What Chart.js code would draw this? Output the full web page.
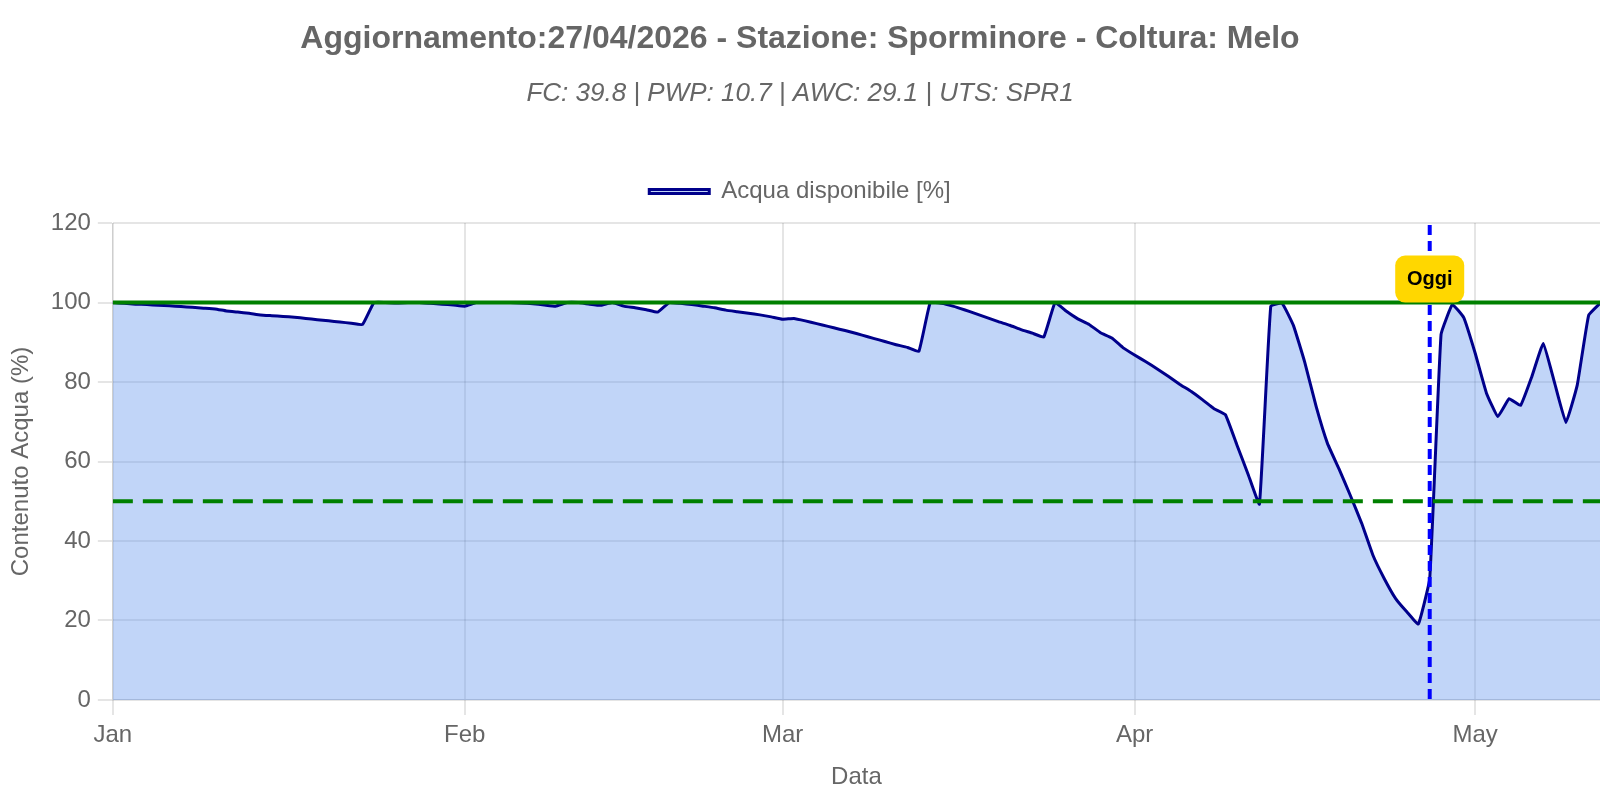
<!DOCTYPE html>
<html>
<head>
<meta charset="utf-8">
<script src="https://cdn.jsdelivr.net/npm/chart.js@4.4.1/dist/chart.umd.min.js"></script>
<style>
  body { margin: 0; background: #fff; }
  #box { width: 1600px; height: 800px; }
</style>
</head>
<body>
<div id="box"><canvas id="chart_acqua"></canvas></div>
<script>
var startDate = '2026-01-01';
var oggi = '2026-04-27';
var monthTicks = ['Jan', 'Feb', 'Mar', 'Apr', 'May'];
var fcLevel = 100;
var soglia = 50;

// acqua disponibile giornaliera [%], dal 1 gennaio
var acqua = [
  100, 99.8, 99.6, 99.5, 99.3, 99.2, 99.0, 98.8, 98.6, 98.4,
  97.9, 97.6, 97.3, 96.9, 96.7, 96.5, 96.3, 96.0, 95.7, 95.4,
  95.1, 94.8, 94.5, 100, 100, 99.9, 100, 100, 99.8, 99.6,
  99.4, 99.1, 100, 100, 100, 100, 99.9, 99.7, 99.4, 99.1,
  100, 100, 99.6, 99.3, 100, 99.1, 98.7, 98.2, 97.6, 100,
  99.8, 99.5, 99.1, 98.7, 98.1, 97.7, 97.3, 96.9, 96.4, 95.8,
  96.0, 95.4, 94.7, 94.0, 93.3, 92.6, 91.8, 91.0, 90.2, 89.4,
  88.7, 87.7, 100, 99.8, 99.1, 98.2, 97.2, 96.2, 95.2, 94.3,
  93.2, 92.3, 91.3, 100, 97.8, 95.9, 94.5, 92.4, 91.1, 88.6,
  86.8, 85.1, 83.3, 81.4, 79.4, 77.6, 75.5, 73.3, 71.8, 64.3,
  56.8, 49.3, 99.1, 99.8, 94.2, 84.9, 73.8, 64.5, 58.2, 51.5,
  44.5, 36.4, 30.5, 25.5, 22.1, 19.1, 30.5, 92.0, 99.5, 96.2,
  87.3, 77.2, 71.3, 75.8, 74.1, 81.4, 89.7, 79.8, 69.8, 79.3,
  96.8, 99.8
];

var fill_color = 'rgba(100, 149, 237, 0.4)';
var line_color = 'darkblue';
var grid_color = 'rgba(0, 0, 0, 0.1)';

// etichette giornaliere (una per valore)
var giorni = [];
var d0 = new Date(startDate + 'T00:00:00Z');
for (var i = 0; i < acqua.length; i++) {
  var d = new Date(d0.getTime() + i * 86400000);
  giorni.push(d.toISOString().slice(0, 10));
}

function roundRect(ctx, x, y, w, h, r) {
  ctx.beginPath();
  ctx.moveTo(x + r, y);
  ctx.lineTo(x + w - r, y);
  ctx.arcTo(x + w, y, x + w, y + r, r);
  ctx.lineTo(x + w, y + h - r);
  ctx.arcTo(x + w, y + h, x + w - r, y + h, r);
  ctx.lineTo(x + r, y + h);
  ctx.arcTo(x, y + h, x, y + h - r, r);
  ctx.lineTo(x, y + r);
  ctx.arcTo(x, y, x + r, y, r);
  ctx.closePath();
}

// un po' di spazio sotto la legenda
var spazioLegenda = {
  id: 'spazioLegenda',
  beforeInit: function (chart) {
    var fitOrig = chart.legend.fit;
    chart.legend.fit = function () {
      fitOrig.call(this);
      this.height += 9.5;
    };
  }
};

var linee = {
  id: 'linee',
  afterDatasetsDraw: function (chart) {
    var ctx = chart.ctx;
    var a = chart.chartArea;
    var x = chart.scales.x;
    var y = chart.scales.y;
    ctx.save();
    ctx.beginPath();
    ctx.rect(a.left, a.top, a.right - a.left, a.bottom - a.top);
    ctx.clip();

    // capacita' di campo
    var py = y.getPixelForValue(fcLevel);
    ctx.lineWidth = 4;
    ctx.strokeStyle = 'green';
    ctx.beginPath();
    ctx.moveTo(a.left, py);
    ctx.lineTo(a.right, py);
    ctx.stroke();

    // soglia 50%
    py = y.getPixelForValue(soglia);
    ctx.setLineDash([20, 10]);
    ctx.beginPath();
    ctx.moveTo(a.left, py);
    ctx.lineTo(a.right, py);
    ctx.stroke();

    // oggi
    var px = x.getPixelForValue(giorni.indexOf(oggi));
    ctx.strokeStyle = 'blue';
    ctx.setLineDash([10, 6]);
    ctx.beginPath();
    ctx.moveTo(px, a.top + 2);
    ctx.lineTo(px, a.bottom);
    ctx.stroke();
    ctx.restore();

    // etichetta
    ctx.save();
    var cy = a.top + 56;
    ctx.fillStyle = 'gold';
    roundRect(ctx, px - 34.5, cy - 23.5, 69, 47, 10);
    ctx.fill();
    ctx.fillStyle = '#000';
    ctx.font = 'bold 20px "Liberation Sans", Arial, sans-serif';
    ctx.textAlign = 'center';
    ctx.textBaseline = 'middle';
    ctx.fillText('Oggi', px, cy);
    ctx.restore();
  }
};

Chart.defaults.font.family = '"Liberation Sans", Arial, sans-serif';
Chart.defaults.font.size = 24;
Chart.defaults.color = '#666';

var ctx = document.getElementById('chart_acqua').getContext('2d');
var chart = new Chart(ctx, {
  type: 'line',
  data: {
    labels: giorni,
    datasets: [{
      label: 'Acqua disponibile [%]',
      data: acqua,
      borderColor: line_color,
      backgroundColor: fill_color,
      borderWidth: 3,
      fill: true,
      pointRadius: 0,
      tension: 0.1
    }]
  },
  options: {
    responsive: true,
    maintainAspectRatio: false,
    animation: false,
    layout: { padding: { left: 0, right: 0, top: 0, bottom: 0 } },
    plugins: {
      title: {
        display: true,
        text: 'Aggiornamento:27/04/2026 - Stazione: Sporminore - Coltura: Melo',
        font: { size: 32, weight: 'bold' },
        padding: { top: 20, bottom: 10 }
      },
      subtitle: {
        display: true,
        text: 'FC: 39.8 | PWP: 10.7 | AWC: 29.1 | UTS: SPR1',
        font: { size: 26, style: 'italic' },
        padding: { top: 10, bottom: 60 }
      },
      legend: {
        labels: { boxWidth: 60, boxHeight: 4, font: { size: 24 } }
      },
      tooltip: { enabled: false }
    },
    scales: {
      x: {
        grid: { tickLength: 15, color: grid_color, lineWidth: 2 },
        ticks: {
          autoSkip: false,
          maxRotation: 0,
          padding: 6.5,
          callback: function (val) {
            var g = giorni[val];
            if (g.slice(8) === '01') return monthTicks[parseInt(g.slice(5, 7), 10) - 1];
            return null;
          }
        },
        title: { display: true, text: 'Data', padding: { top: 6.5, bottom: 8 } }
      },
      y: {
        min: 0,
        max: 120,
        grid: { tickLength: 15, color: grid_color, lineWidth: 2 },
        ticks: { stepSize: 20, padding: 7 },
        title: { display: true, text: 'Contenuto Acqua (%)', padding: { top: 7, bottom: 8 } }
      }
    }
  },
  plugins: [spazioLegenda, linee]
});
</script>
</body>
</html>
